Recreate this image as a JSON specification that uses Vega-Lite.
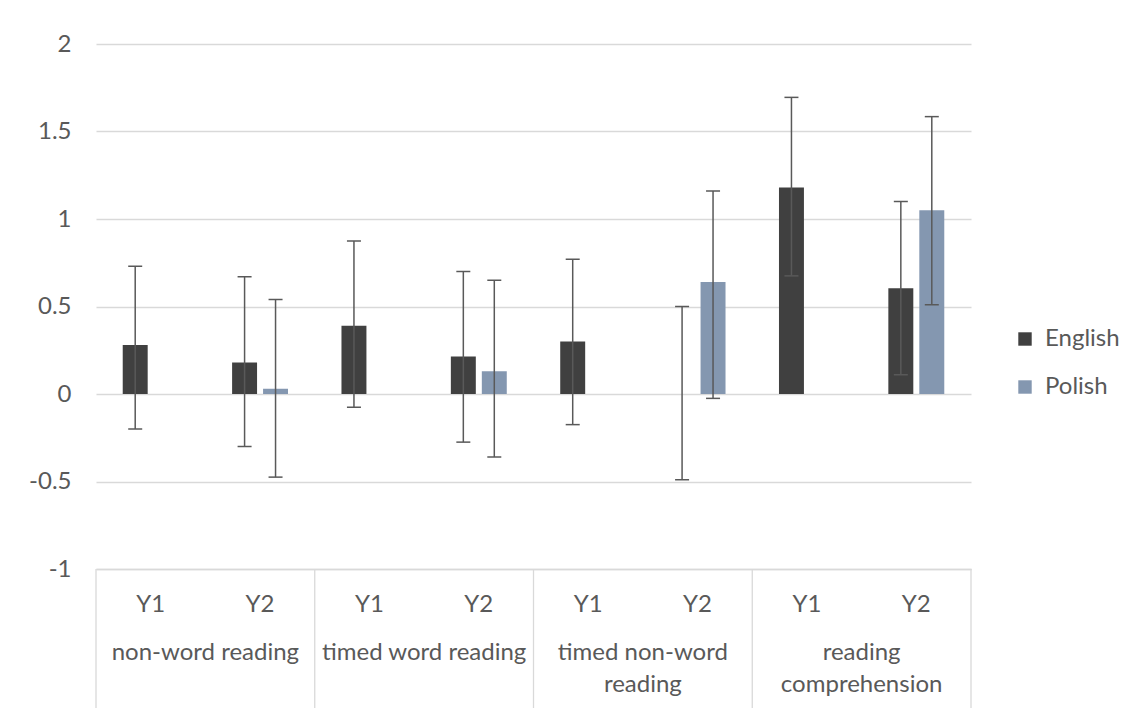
{
  "$schema": "https://vega.github.io/schema/vega-lite/v6.json",
  "width": 875,
  "height": 525,
  "autosize": {"type": "none"},
  "padding": {"left": 96, "top": 44, "right": 162, "bottom": 139},
  "background": "white",
  "config": {"view": {"stroke": null}, "font": "Lato"},
  "datasets": {
    "scores": [
      {"test": "non-word reading", "cat": "non-word reading|Y1", "lang": "English", "value": 0.28, "lo": -0.2, "hi": 0.73},
      {"test": "non-word reading", "cat": "non-word reading|Y2", "lang": "English", "value": 0.18, "lo": -0.3, "hi": 0.67},
      {"test": "non-word reading", "cat": "non-word reading|Y2", "lang": "Polish", "value": 0.03, "lo": -0.475, "hi": 0.54},
      {"test": "timed word reading", "cat": "timed word reading|Y1", "lang": "English", "value": 0.39, "lo": -0.075, "hi": 0.875},
      {"test": "timed word reading", "cat": "timed word reading|Y2", "lang": "English", "value": 0.215, "lo": -0.275, "hi": 0.7},
      {"test": "timed word reading", "cat": "timed word reading|Y2", "lang": "Polish", "value": 0.13, "lo": -0.36, "hi": 0.65},
      {"test": "timed non-word reading", "cat": "timed non-word reading|Y1", "lang": "English", "value": 0.3, "lo": -0.175, "hi": 0.77},
      {"test": "timed non-word reading", "cat": "timed non-word reading|Y2", "lang": "English", "value": 0.0, "lo": -0.49, "hi": 0.5},
      {"test": "timed non-word reading", "cat": "timed non-word reading|Y2", "lang": "Polish", "value": 0.64, "lo": -0.025, "hi": 1.16},
      {"test": "reading comprehension", "cat": "reading comprehension|Y1", "lang": "English", "value": 1.18, "lo": 0.675, "hi": 1.695},
      {"test": "reading comprehension", "cat": "reading comprehension|Y2", "lang": "English", "value": 0.605, "lo": 0.11, "hi": 1.1},
      {"test": "reading comprehension", "cat": "reading comprehension|Y2", "lang": "Polish", "value": 1.05, "lo": 0.51, "hi": 1.585}
    ],
    "groups": [
      {"test": "non-word reading", "label": "non-word reading", "first": "non-word reading|Y1", "second": "non-word reading|Y2"},
      {"test": "timed word reading", "label": "timed word reading", "first": "timed word reading|Y1", "second": "timed word reading|Y2"},
      {"test": "timed non-word reading", "label": "timed non-word\nreading", "first": "timed non-word reading|Y1", "second": "timed non-word reading|Y2"},
      {"test": "reading comprehension", "label": "reading\ncomprehension", "first": "reading comprehension|Y1", "second": "reading comprehension|Y2"}
    ]
  },
  "data": {"name": "scores"},
  "encoding": {
    "x": {
      "field": "cat",
      "type": "nominal",
      "scale": {
        "domain": [
          "non-word reading|Y1", "non-word reading|Y2",
          "timed word reading|Y1", "timed word reading|Y2",
          "timed non-word reading|Y1", "timed non-word reading|Y2",
          "reading comprehension|Y1", "reading comprehension|Y2"
        ],
        "paddingInner": 0,
        "paddingOuter": 0
      },
      "axis": {
        "title": null,
        "labelExpr": "split(datum.value, '|')[1]",
        "labelAngle": 0,
        "ticks": false,
        "tickSize": 0,
        "domain": true,
        "domainColor": "#d9d9d9",
        "domainWidth": 1.3,
        "grid": false,
        "labelFont": "Lato",
        "labelFontSize": 24,
        "labelColor": "#595959",
        "labelBaseline": "alphabetic",
        "labelPadding": 42
      }
    }
  },
  "layer": [
    {
      "mark": {"type": "bar"},
      "encoding": {
        "xOffset": {
          "field": "lang",
          "type": "nominal",
          "scale": {"domain": ["English", "Polish"], "paddingInner": 0.194, "paddingOuter": 0.863}
        },
        "y": {
          "field": "value",
          "type": "quantitative",
          "scale": {"domain": [-1, 2], "nice": false, "zero": false},
          "axis": {
            "title": null,
            "values": [-1, -0.5, 0, 0.5, 1, 1.5, 2],
            "labelExpr": "'' + datum.value",
            "grid": true,
            "gridColor": "#d9d9d9",
            "gridWidth": 1.3,
            "domain": false,
            "ticks": false,
            "labelPadding": 25,
            "labelFont": "Lato",
            "labelFontSize": 24,
            "labelColor": "#595959"
          }
        },
        "color": {
          "field": "lang",
          "type": "nominal",
          "scale": {"domain": ["English", "Polish"], "range": ["#404040", "#8497b0"]},
          "legend": {
            "title": null,
            "orient": "none",
            "legendX": 917,
            "legendY": 283,
            "symbolType": "square",
            "symbolSize": 180,
            "symbolStrokeWidth": 0,
            "labelFont": "Lato",
            "labelFontSize": 24,
            "labelColor": "#595959",
            "labelOffset": 8,
            "rowPadding": 24,
            "padding": 0
          }
        }
      }
    },
    {
      "mark": {"type": "rule", "color": "#595959", "strokeWidth": 1.5},
      "encoding": {
        "xOffset": {"field": "lang", "type": "nominal"},
        "y": {"field": "lo", "type": "quantitative"},
        "y2": {"field": "hi"}
      }
    },
    {
      "mark": {"type": "tick", "color": "#595959", "size": 14, "thickness": 1.5, "opacity": 1},
      "encoding": {
        "xOffset": {"field": "lang", "type": "nominal"},
        "y": {"field": "hi", "type": "quantitative"}
      }
    },
    {
      "mark": {"type": "tick", "color": "#595959", "size": 14, "thickness": 1.5, "opacity": 1},
      "encoding": {
        "xOffset": {"field": "lang", "type": "nominal"},
        "y": {"field": "lo", "type": "quantitative"}
      }
    },
    {
      "data": {"name": "groups"},
      "mark": {"type": "rule", "color": "#d9d9d9", "strokeWidth": 1.3},
      "encoding": {
        "x": {"field": "first", "type": "nominal", "bandPosition": 0},
        "y": {"datum": -1},
        "y2": {"datum": -1.8}
      }
    },
    {
      "data": {"name": "groups"},
      "transform": [{"filter": "datum.test === 'reading comprehension'"}],
      "mark": {"type": "rule", "color": "#d9d9d9", "strokeWidth": 1.3},
      "encoding": {
        "x": {"field": "second", "type": "nominal", "bandPosition": 1},
        "y": {"datum": -1},
        "y2": {"datum": -1.8}
      }
    },
    {
      "data": {"name": "groups"},
      "mark": {"type": "text", "font": "Lato", "fontSize": 24, "color": "#595959", "align": "center", "baseline": "alphabetic", "lineBreak": "\n", "lineHeight": 32},
      "encoding": {
        "x": {"field": "second", "type": "nominal", "bandPosition": 0},
        "y": {"datum": -1.52},
        "text": {"field": "label"}
      }
    }
  ]
}
